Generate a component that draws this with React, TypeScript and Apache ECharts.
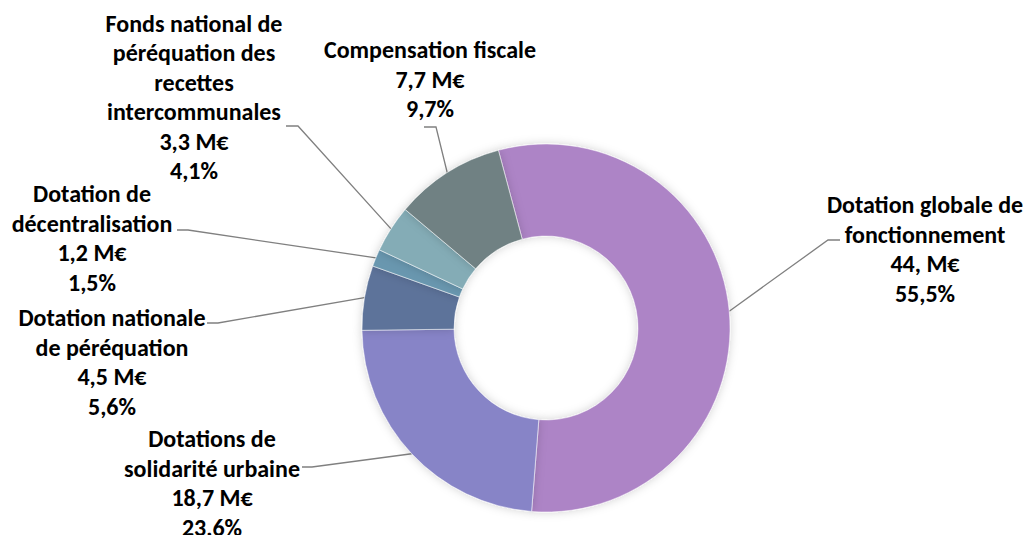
import React, { useEffect, useRef } from "react";
import * as echarts from "echarts";

const categories = [
  "Dotation globale de\nfonctionnement",
  "Dotations de\nsolidarité urbaine",
  "Dotation nationale\nde péréquation",
  "Dotation de\ndécentralisation",
  "Fonds national de\npéréquation des\nrecettes\nintercommunales",
  "Compensation fiscale",
];
const valuesMEur = [44, 18.7, 4.5, 1.2, 3.3, 7.7];
const percents = [55.5, 23.6, 5.6, 1.5, 4.1, 9.7];
const colors = ["#AD84C6", "#8784C7", "#5D739A", "#6997AF", "#84ACB6", "#6F8183"];

// label layout (centre of text block, bend and end of leader line)
const labelLayoutCfg = [
  { x: 925, y: 249, bend: [828, 240], end: [840, 240] },
  { x: 212, y: 483, bend: [312, 467], end: [302, 467] },
  { x: 112, y: 362, bend: [218, 323], end: [207, 323] },
  { x: 92, y: 238, bend: [188, 230], end: [177, 230] },
  { x: 194, y: 97, bend: [298, 126], end: [286, 126] },
  { x: 430, y: 79, bend: [436, 127], end: [424, 127] },
];

const fmtValue = (v: number) =>
  Number.isInteger(v) ? `${v}, M€` : `${String(v).replace(".", ",")} M€`;
const fmtPct = (p: number) => `${p.toFixed(1).replace(".", ",")}%`;

const CX = 546;
const CY = 328;
const R_OUT = 184;
const R_IN = 92;
const START = 105;

export default function App() {
  const ref = useRef<HTMLDivElement>(null);
  useEffect(() => {
    document.body.style.margin = "0";
    if (!ref.current) return;
    const chart = echarts.init(ref.current, null, { renderer: "svg" });
    const total = valuesMEur.reduce((a, b) => a + b, 0);
    chart.setOption({
      animation: false,
      backgroundColor: "#ffffff",
      series: [
        {
          type: "pie",
          center: [CX, CY],
          radius: [R_IN, R_OUT],
          startAngle: START,
          clockwise: true,
          avoidLabelOverlap: false,
          data: categories.map((name, i) => ({
            name,
            value: valuesMEur[i],
            itemStyle: { color: colors[i] },
          })),
          itemStyle: {
            borderColor: "#ffffff",
            borderWidth: 0.5,
            shadowBlur: 10,
            shadowColor: "rgba(0,0,0,0.18)",
          },
          label: {
            show: true,
            position: "outside",
            formatter: (p: any) =>
              `${p.name}\n${fmtValue(valuesMEur[p.dataIndex])}\n${fmtPct(percents[p.dataIndex])}`,
            fontFamily: "Carlito, Calibri, Lato, sans-serif",
            fontWeight: 900,
            fontSize: 24,
            lineHeight: 29.5,
            color: "#000000",
            align: "center",
          },
          labelLine: {
            show: true,
            length: 10,
            length2: 10,
            lineStyle: { color: "#808080", width: 1.3 },
          },
          labelLayout: (params: any) => {
            const i = params.dataIndex;
            const cfg = labelLayoutCfg[i];
            let p0 = params.labelLinePoints && params.labelLinePoints[0];
            if (!p0) {
              let cum = 0;
              for (let k = 0; k < i; k++) cum += valuesMEur[k];
              const mid = ((cum + valuesMEur[i] / 2) / total) * 360;
              const a = ((START - mid) * Math.PI) / 180;
              p0 = [CX + R_OUT * Math.cos(a), CY - R_OUT * Math.sin(a)];
            }
            return {
              x: cfg.x,
              y: cfg.y,
              align: "center",
              verticalAlign: "middle",
              labelLinePoints: [p0, cfg.bend, cfg.end],
            };
          },
          emphasis: { disabled: true },
        },
      ],
    });
    return () => chart.dispose();
  }, []);
  return <div ref={ref} style={{ width: 1025, height: 535 }} />;
}
